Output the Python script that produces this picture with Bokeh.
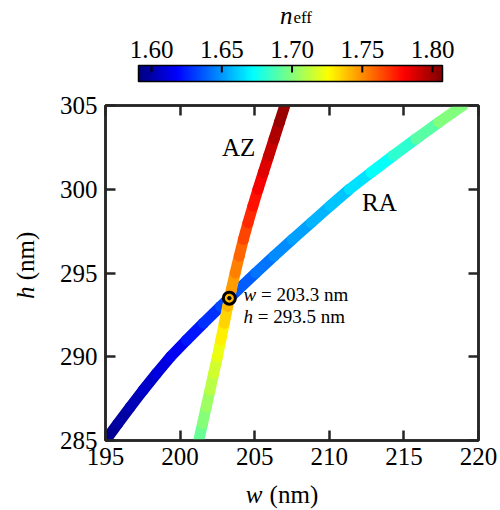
import numpy as np
from bokeh.plotting import figure
from bokeh.models import (Range1d, LinearAxis, FixedTicker, LinearColorMapper,
                          ColumnDataSource, Label)
from bokeh.layouts import column, row
from bokeh.transform import linear_cmap
from bokeh.core.properties import value
from bokeh.embed import file_html
from bokeh.resources import INLINE

# ---------------- data ----------------
ra_h = [285, 286, 287, 288, 289, 290, 291, 292, 293, 294, 295,
        296, 297, 298, 299, 300, 301, 302, 303, 304, 305]
ra_w = [195.0, 195.82, 196.66, 197.52, 198.42, 199.36, 200.44, 201.56, 202.71, 203.88, 205.07,
        206.28, 207.52, 208.79, 210.05, 211.35, 212.8, 214.28, 215.8, 217.35, 218.95]
ra_n = [1.593, 1.597, 1.601, 1.605, 1.609, 1.613, 1.619, 1.625, 1.631, 1.636, 1.640,
        1.645, 1.650, 1.654, 1.658, 1.662, 1.669, 1.677, 1.686, 1.695, 1.704]

az_h = [285, 286, 287, 288, 289, 290, 291, 292, 293, 294, 295,
        296, 297, 298, 299, 300, 301, 302, 303, 304, 305]
az_w = [201.25, 201.5, 201.75, 202.0, 202.25, 202.5, 202.73, 202.96, 203.19, 203.43, 203.69,
        203.96, 204.24, 204.55, 204.88, 205.22, 205.58, 205.94, 206.3, 206.66, 207.02]
az_n = [1.692, 1.697, 1.703, 1.708, 1.714, 1.719, 1.726, 1.732, 1.738, 1.744, 1.750,
        1.755, 1.762, 1.768, 1.774, 1.779, 1.784, 1.789, 1.794, 1.799, 1.803]

cross_w = [203.3]
cross_h = [293.5]

x_ticks = [195, 200, 205, 210, 215, 220]
y_ticks = [285, 290, 295, 300, 305]
cbar_ticks = [1.60, 1.65, 1.70, 1.75, 1.80]
cbar_labels = ["1.60", "1.65", "1.70", "1.75", "1.80"]
n_lo, n_hi = 1.5907, 1.8071

# ---------------- style / layout constants ----------------
FONT = "Liberation Serif"
AX_COL = "#262626"
W = 498
YT_W = 40            # width of the y-title strip
BORDER_L, BORDER_R = 105, 20
HEAD_H, MAIN_H, FOOT_H = 89, 386, 34


def jet(t):
    r = min(max(1.5 - abs(4 * t - 3), 0), 1)
    g = min(max(1.5 - abs(4 * t - 2), 0), 1)
    b = min(max(1.5 - abs(4 * t - 1), 0), 1)
    return "#%02x%02x%02x" % (int(r * 255), int(g * 255), int(b * 255))


palette = [jet(i / 255) for i in range(256)]
mapper = LinearColorMapper(palette=palette, low=n_lo, high=n_hi)


def seg_source(w, h, n):
    w = np.asarray(w, float); h = np.asarray(h, float); n = np.asarray(n, float)
    return ColumnDataSource(dict(x0=w[:-1], y0=h[:-1], x1=w[1:], y1=h[1:],
                                 nm=(n[:-1] + n[1:]) / 2))


def style_axis(ax, labels=True, standoff=7):
    ax.axis_line_color = AX_COL
    ax.axis_line_width = 2.5
    ax.major_tick_line_color = AX_COL
    ax.major_tick_line_width = 2.5
    ax.major_tick_in = 10
    ax.major_tick_out = 0
    ax.minor_tick_in = 0
    ax.minor_tick_out = 0
    ax.major_label_text_font = FONT
    if labels:
        ax.major_label_text_color = "black"
        ax.major_label_text_font_size = "25px"
        ax.major_label_standoff = standoff
    else:
        ax.major_label_text_color = None
        ax.major_label_text_font_size = "0px"
        ax.major_label_standoff = 0


def lab(fig, x, y, text, size, style="normal", align="left", angle=0):
    # y is the vertical centre of the text
    fig.add_layout(Label(x=x, y=y, text=text, text_font=FONT, text_font_size=size,
                         text_font_style=style, text_align=align, text_baseline="middle",
                         angle=angle, text_color="black"))


def blank(fig):
    fig.grid.grid_line_color = None
    fig.outline_line_color = None
    fig.border_fill_color = "white"
    fig.background_fill_color = "white"
    fig.title.visible = False


xr = Range1d(195, 220)
yr = Range1d(285, 305)

# ---------------- header: colour bar ----------------
cb_start = n_lo - 33 * (n_hi - n_lo) / 304
cb_end = n_hi + 36 * (n_hi - n_lo) / 304
head = figure(width=W, height=HEAD_H, x_range=Range1d(cb_start, cb_end),
              y_range=Range1d(-8 / 16, 81 / 16),
              output_backend="svg", toolbar_location=None,
              min_border_left=BORDER_L, min_border_right=BORDER_R,
              min_border_top=0, min_border_bottom=0,
              x_axis_location=None, y_axis_location=None)
blank(head)
grad = np.linspace(n_lo, n_hi, 256).reshape(1, 256)
head.image(image=[grad], x=n_lo, y=0, dw=n_hi - n_lo, dh=1, color_mapper=mapper)
head.segment(x0=cbar_ticks, y0=1, x1=cbar_ticks, y1=1 - 7 / 16,
             line_color="black", line_width=2)
head.quad(left=[n_lo], right=[n_hi], bottom=[0], top=[1], fill_color=None,
          line_color="black", line_width=1.5)
head.text(x=cbar_ticks, y=2.0, text=cbar_labels, text_font=value(FONT),
          text_font_size="25px", text_align="center", text_baseline="middle",
          text_color="black")
lab(head, 1.7003, 4.15, "n", "25px", style="italic", align="right")
lab(head, 1.7010, 3.98, "eff", "17px", align="left")

# ---------------- main figure ----------------
p = figure(width=W - YT_W, height=MAIN_H, x_range=xr, y_range=yr,
           output_backend="svg", toolbar_location=None,
           min_border_left=BORDER_L - YT_W, min_border_right=BORDER_R,
           min_border_top=16, min_border_bottom=35,
           x_axis_location=None, y_axis_location=None)
p.grid.grid_line_color = None
p.outline_line_color = AX_COL
p.outline_line_width = 2.5
p.background_fill_color = "white"
p.border_fill_color = "white"
p.title.visible = False

for loc, dim, show, so in [("below", "x", True, 7), ("above", "x", False, 0),
                           ("left", "y", True, 8), ("right", "y", False, 0)]:
    ax = LinearAxis(ticker=FixedTicker(ticks=x_ticks if dim == "x" else y_ticks))
    style_axis(ax, show, so)
    p.add_layout(ax, loc)

cmap = linear_cmap("nm", palette, n_lo, n_hi)
p.segment(x0="x0", y0="y0", x1="x1", y1="y1", source=seg_source(ra_w, ra_h, ra_n),
          line_color=cmap, line_width=11, line_cap="round")
p.segment(x0="x0", y0="y0", x1="x1", y1="y1", source=seg_source(az_w, az_h, az_n),
          line_color=cmap, line_width=11, line_cap="round")

p.scatter(cross_w, cross_h, size=12, marker="circle", fill_color=None,
          line_color="black", line_width=3)
p.scatter(cross_w, cross_h, size=3.5, marker="circle", fill_color="black", line_color="black")

lab(p, 202.8, 302.52, "AZ", "25px")
lab(p, 212.2, 299.23, "RA", "25px")

lab(p, 204.25, 293.74, "w", "19px", style="italic")
lab(p, 205.42, 293.74, "= 203.3 nm", "19px")
lab(p, 204.25, 292.43, "h", "19px", style="italic")
lab(p, 205.21, 292.43, "= 293.5 nm", "19px")

# ---------------- y title strip ----------------
ytf = figure(width=YT_W, height=MAIN_H, x_range=Range1d(0, YT_W), y_range=yr,
             output_backend="svg", toolbar_location=None,
             min_border_left=0, min_border_right=0, min_border_top=16, min_border_bottom=35,
             x_axis_location=None, y_axis_location=None)
blank(ytf)
lab(ytf, 25, 294.19, "h", "25px", style="italic", align="right", angle=np.pi / 2)
lab(ytf, 25, 294.56, "(nm)", "25px", align="left", angle=np.pi / 2)

# ---------------- x title strip ----------------
xtf = figure(width=W, height=FOOT_H, x_range=xr, y_range=Range1d(0, FOOT_H),
             output_backend="svg", toolbar_location=None,
             min_border_left=BORDER_L, min_border_right=BORDER_R,
             min_border_top=0, min_border_bottom=0,
             x_axis_location=None, y_axis_location=None)
blank(xtf)
lab(xtf, 205.52, 15.4, "w", "25px", style="italic", align="right")
lab(xtf, 206.0, 15.4, "(nm)", "25px", align="left")

layout = column(head, row(ytf, p, spacing=0), xtf, spacing=0)
open("out.html", "w").write(file_html(layout, INLINE))
